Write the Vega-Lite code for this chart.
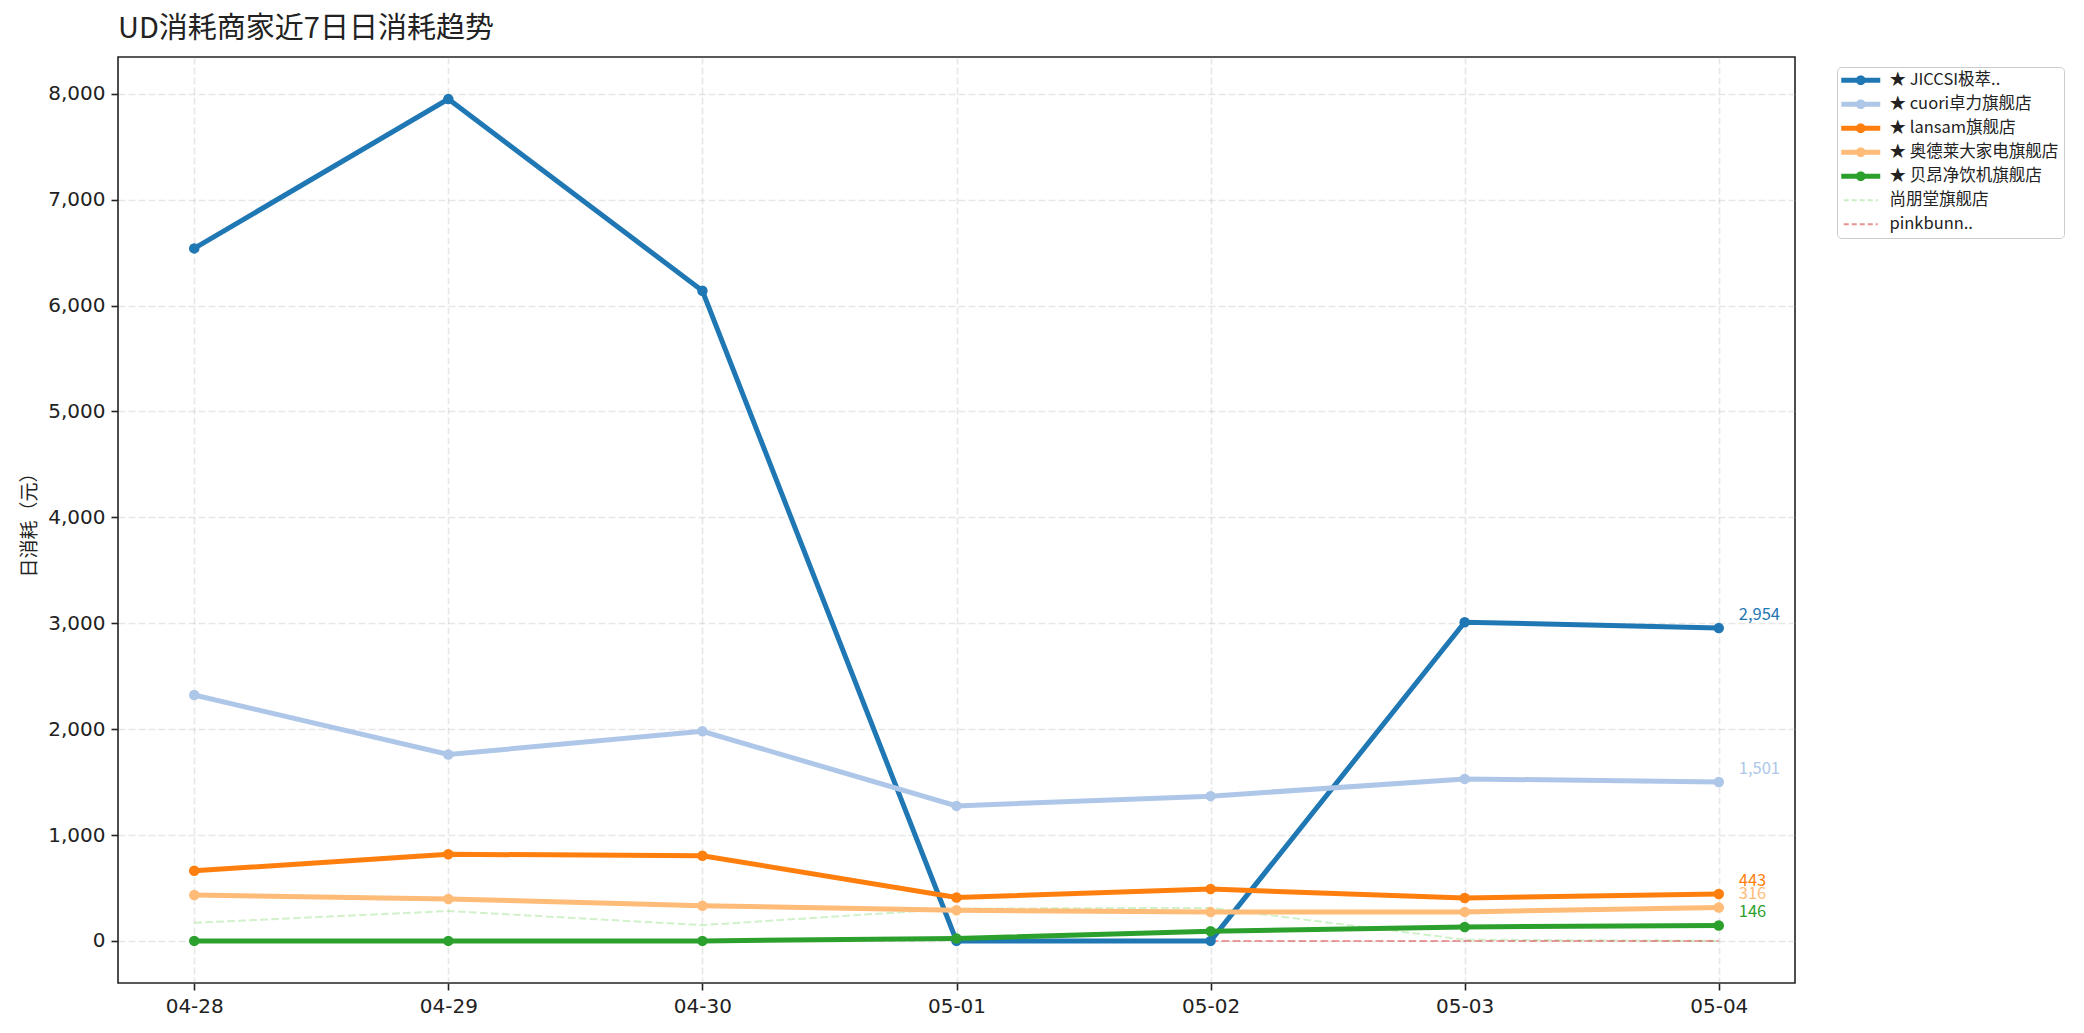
{
  "$schema": "https://vega.github.io/schema/vega-lite/v6.json",
  "width": 1677,
  "height": 926,
  "autosize": {"type": "none"},
  "padding": {"left": 118, "top": 57, "right": 289, "bottom": 50},
  "background": "white",
  "title": {
    "text": "UD消耗商家近7日日消耗趋势",
    "anchor": "start",
    "frame": "group",
    "font": "Noto Sans CJK JP",
    "fontSize": 29,
    "fontWeight": "normal",
    "color": "#222222",
    "baseline": "alphabetic",
    "offset": -10
  },
  "config": {
    "font": "Noto Sans CJK JP",
    "view": {"stroke": "#222222", "strokeWidth": 1.6},
    "axis": {
      "domain": false,
      "tickColor": "#222222",
      "tickSize": 7,
      "tickWidth": 1.6,
      "labelColor": "#222222",
      "labelFont": "DejaVu Sans",
      "labelFontSize": 20,
      "labelPadding": 6,
      "grid": true,
      "gridColor": "#b0b0b0",
      "gridOpacity": 0.3,
      "gridDash": [7, 3],
      "gridWidth": 1.6,
      "titleFont": "Noto Sans CJK JP",
      "titleFontSize": 19,
      "titleFontWeight": "normal",
      "titleColor": "#222222"
    }
  },
  "data": {
    "values": [
      {"date": "04-28", "name": "JICCSI极萃..", "value": 6540},
      {"date": "04-29", "name": "JICCSI极萃..", "value": 7950},
      {"date": "04-30", "name": "JICCSI极萃..", "value": 6140},
      {"date": "05-01", "name": "JICCSI极萃..", "value": 0},
      {"date": "05-02", "name": "JICCSI极萃..", "value": 0},
      {"date": "05-03", "name": "JICCSI极萃..", "value": 3010},
      {"date": "05-04", "name": "JICCSI极萃..", "value": 2954},
      {"date": "04-28", "name": "cuori卓力旗舰店", "value": 2322},
      {"date": "04-29", "name": "cuori卓力旗舰店", "value": 1760},
      {"date": "04-30", "name": "cuori卓力旗舰店", "value": 1980},
      {"date": "05-01", "name": "cuori卓力旗舰店", "value": 1275},
      {"date": "05-02", "name": "cuori卓力旗舰店", "value": 1367},
      {"date": "05-03", "name": "cuori卓力旗舰店", "value": 1530},
      {"date": "05-04", "name": "cuori卓力旗舰店", "value": 1501},
      {"date": "04-28", "name": "lansam旗舰店", "value": 662},
      {"date": "04-29", "name": "lansam旗舰店", "value": 818},
      {"date": "04-30", "name": "lansam旗舰店", "value": 805},
      {"date": "05-01", "name": "lansam旗舰店", "value": 410},
      {"date": "05-02", "name": "lansam旗舰店", "value": 490},
      {"date": "05-03", "name": "lansam旗舰店", "value": 405},
      {"date": "05-04", "name": "lansam旗舰店", "value": 443},
      {"date": "04-28", "name": "奥德莱大家电旗舰店", "value": 434},
      {"date": "04-29", "name": "奥德莱大家电旗舰店", "value": 396},
      {"date": "04-30", "name": "奥德莱大家电旗舰店", "value": 332},
      {"date": "05-01", "name": "奥德莱大家电旗舰店", "value": 290},
      {"date": "05-02", "name": "奥德莱大家电旗舰店", "value": 272},
      {"date": "05-03", "name": "奥德莱大家电旗舰店", "value": 274},
      {"date": "05-04", "name": "奥德莱大家电旗舰店", "value": 316},
      {"date": "04-28", "name": "贝昂净饮机旗舰店", "value": 0},
      {"date": "04-29", "name": "贝昂净饮机旗舰店", "value": 0},
      {"date": "04-30", "name": "贝昂净饮机旗舰店", "value": 0},
      {"date": "05-01", "name": "贝昂净饮机旗舰店", "value": 22},
      {"date": "05-02", "name": "贝昂净饮机旗舰店", "value": 91},
      {"date": "05-03", "name": "贝昂净饮机旗舰店", "value": 132},
      {"date": "05-04", "name": "贝昂净饮机旗舰店", "value": 146},
      {"date": "04-28", "name": "尚朋堂旗舰店", "value": 171},
      {"date": "04-29", "name": "尚朋堂旗舰店", "value": 282},
      {"date": "04-30", "name": "尚朋堂旗舰店", "value": 149},
      {"date": "05-01", "name": "尚朋堂旗舰店", "value": 305},
      {"date": "05-02", "name": "尚朋堂旗舰店", "value": 312},
      {"date": "05-03", "name": "尚朋堂旗舰店", "value": 12},
      {"date": "05-04", "name": "尚朋堂旗舰店", "value": 0},
      {"date": "05-02", "name": "pinkbunn..", "value": 0},
      {"date": "05-03", "name": "pinkbunn..", "value": 0},
      {"date": "05-04", "name": "pinkbunn..", "value": 0}
    ]
  },
  "encoding": {
    "x": {
      "field": "date",
      "type": "ordinal",
      "scale": {"type": "point", "padding": 0.3},
      "axis": {"title": null, "labelAngle": 0}
    },
    "y": {
      "field": "value",
      "type": "quantitative",
      "scale": {"domain": [-397.5, 8347.5], "nice": false, "zero": false},
      "axis": {
        "title": "日消耗（元）",
        "values": [0, 1000, 2000, 3000, 4000, 5000, 6000, 7000, 8000],
        "format": ",.0f",
        "titlePadding": 8
      }
    },
    "color": {
      "field": "name",
      "type": "nominal",
      "scale": {
        "domain": ["JICCSI极萃..", "cuori卓力旗舰店", "lansam旗舰店", "奥德莱大家电旗舰店", "贝昂净饮机旗舰店", "尚朋堂旗舰店", "pinkbunn.."],
        "range": ["#1f77b4", "#aec7e8", "#ff7f0e", "#ffbb78", "#2ca02c", "#98df8a", "#d62728"]
      },
      "legend": {
        "title": null,
        "orient": "none",
        "legendX": 1719,
        "legendY": 10,
        "labelExpr": "indexof(['尚朋堂旗舰店', 'pinkbunn..'], datum.value) >= 0 ? datum.value : '★ ' + datum.value",
        "labelFontSize": 16.5,
        "labelColor": "#222222",
        "labelLimit": 400,
        "symbolSize": 400,
        "symbolOffset": 10.5,
        "labelOffset": 20.5,
        "rowPadding": 7,
        "padding": 5,
        "strokeColor": "#cccccc",
        "fillColor": "white",
        "cornerRadius": 4,
        "encode": {
          "symbols": {
            "update": {
              "shape": {"signal": "indexof(['尚朋堂旗舰店', 'pinkbunn..'], datum.value) >= 0 ? 'M-1.7,0L1.7,0' : 'M-1.95,0L1.95,0M0.231,0.096L0.096,0.231L-0.096,0.231L-0.231,0.096L-0.231,-0.096L-0.096,-0.231L0.096,-0.231L0.231,-0.096Z'"},
              "strokeJoin": {"value": "round"},
              "strokeDash": {"signal": "indexof(['尚朋堂旗舰店', 'pinkbunn..'], datum.value) >= 0 ? [5, 3] : [1, 0]"},
              "strokeWidth": {"signal": "indexof(['尚朋堂旗舰店', 'pinkbunn..'], datum.value) >= 0 ? 1.8 : 5"},
              "opacity": {"signal": "indexof(['尚朋堂旗舰店', 'pinkbunn..'], datum.value) >= 0 ? 0.5 : 1"},
              "stroke": {"scale": "color", "field": "value"},
              "fill": [
                {"test": "indexof(['尚朋堂旗舰店', 'pinkbunn..'], datum.value) >= 0", "value": "transparent"},
                {"scale": "color", "field": "value"}
              ]
            }
          }
        }
      }
    }
  },
  "layer": [
    {
      "transform": [{"filter": {"field": "name", "oneOf": ["尚朋堂旗舰店", "pinkbunn.."]}}],
      "mark": {"type": "line", "strokeWidth": 2, "strokeDash": [7.7, 3.3], "opacity": 0.45}
    },
    {
      "transform": [{"filter": {"not": {"field": "name", "oneOf": ["尚朋堂旗舰店", "pinkbunn.."]}}}],
      "mark": {"type": "line", "strokeWidth": 5}
    },
    {
      "transform": [{"filter": {"not": {"field": "name", "oneOf": ["尚朋堂旗舰店", "pinkbunn.."]}}}],
      "mark": {"type": "point", "filled": true, "size": 110, "opacity": 1}
    },
    {
      "transform": [
        {"filter": {"field": "date", "equal": "05-04"}},
        {"filter": {"not": {"field": "name", "oneOf": ["尚朋堂旗舰店", "pinkbunn.."]}}}
      ],
      "mark": {"type": "text", "align": "left", "baseline": "middle", "dx": 20, "dy": -13, "fontSize": 16.5},
      "encoding": {"text": {"field": "value", "type": "quantitative", "format": ","}}
    }
  ]
}
